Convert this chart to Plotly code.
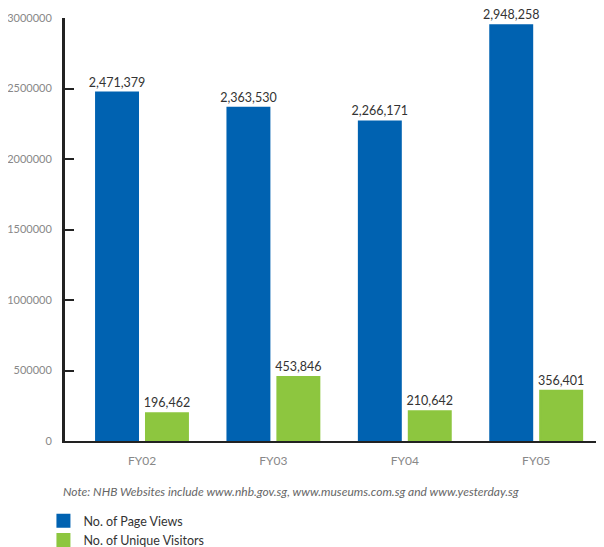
import plotly.graph_objects as go

categories = ["FY02", "FY03", "FY04", "FY05"]
page_views = [2471379, 2363530, 2266171, 2948258]
unique_visitors = [196462, 453846, 210642, 356401]
series_names = ["No. of Page Views", "No. of Unique Visitors"]
y_ticks = [0, 500000, 1000000, 1500000, 2000000, 2500000, 3000000]
note_text = "Note: NHB Websites include www.nhb.gov.sg, www.museums.com.sg and www.yesterday.sg"

BLUE = "#0062b1"
GREEN = "#8dc63f"
FONT = "Lato, 'Open Sans', sans-serif"

fig = go.Figure()
for name, vals, col in [(series_names[0], page_views, BLUE), (series_names[1], unique_visitors, GREEN)]:
    fig.add_trace(go.Bar(
        x=categories, y=vals, name=name,
        marker=dict(color=col, line=dict(width=2, color=col)),
        text=[f"{v:,}" for v in vals], textposition="outside",
        constraintext="none",
        textfont=dict(size=12.5, color="#333333", family=FONT),
        cliponaxis=False,
    ))

fig.update_layout(
    width=596, height=539,
    margin=dict(l=57, r=0, t=10, b=106, autoexpand=False),
    paper_bgcolor="white", plot_bgcolor="white",
    barmode="group", bargap=0.24, bargroupgap=0.16,
    font=dict(family=FONT, color="#888888", size=12),
    showlegend=True,
    legend=dict(x=-0.04, y=-0.154, xanchor="left", yanchor="top",
                orientation="v", font=dict(size=12.5, color="#333333", family=FONT),
                tracegroupgap=0, itemwidth=30, bgcolor="rgba(0,0,0,0)"),
)
fig.update_xaxes(
    type="category", range=[-0.586, 3.516],
    showline=True, linecolor="#222222", linewidth=2,
    ticks="", showgrid=False, tickfont=dict(size=12, color="#888888"),
    ticklabelstandoff=8,
)
fig.update_yaxes(
    range=[0, 3000000], tickvals=y_ticks, ticktext=[str(v) for v in y_ticks],
    showline=True, linecolor="#222222", linewidth=3,
    ticks="inside", ticklen=9, tickwidth=2, tickcolor="#222222",
    showgrid=False, zeroline=False, tickfont=dict(size=11, color="#888888"),
    ticklabelstandoff=8,
)
fig.add_annotation(
    text=note_text, xref="paper", yref="paper", x=-0.007, y=-0.097,
    xanchor="left", yanchor="top", showarrow=False,
    font=dict(size=12, color="#666666", family=FONT, style="italic"),
)
fig.write_html("out.html")
